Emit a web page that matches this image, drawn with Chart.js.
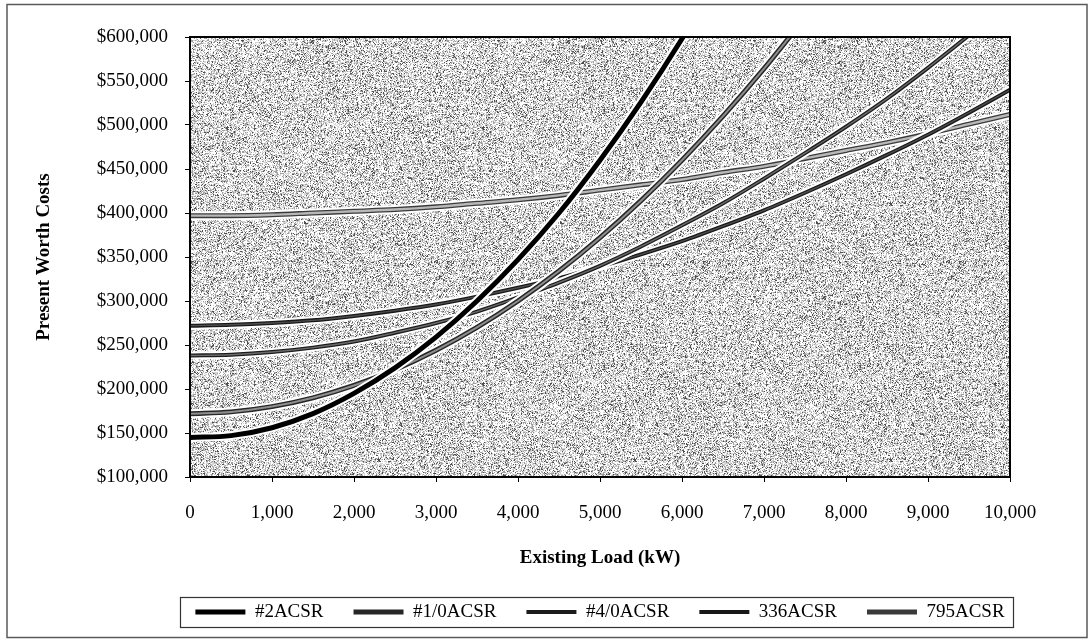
<!DOCTYPE html>
<html>
<head>
<meta charset="utf-8">
<title>Present Worth Costs vs Existing Load</title>
<script src="https://cdn.jsdelivr.net/npm/chart.js@4.4.1/dist/chart.umd.min.js"></script>
<style>
  html, body { margin: 0; padding: 0; background: #ffffff; }
  #wrap { width: 1092px; height: 643px; }
  canvas { display: block; }
</style>
</head>
<body>
<div id="wrap"><canvas id="chart" width="1092" height="643"></canvas></div>
<script>
// Existing load (kW) at which each conductor's present worth cost is given
const loadKW = [0, 500, 1000, 1500, 2000, 2500, 3000, 3500, 4000, 4500, 5000,
                5500, 6000, 6500, 7000, 7500, 8000, 8500, 9000, 9500, 10000];

// Present worth costs ($) per conductor size
const costACSR2   = [145000, 147000, 156000, 172000, 195000, 224000, 259000, 300000, 347000, 400000, 460000,
                     526000, 598000, 676000, null, null, null, null, null, null, null];
const costACSR1_0 = [172000, 174000, 180000, 190000, 204000, 222000, 244000, 270000, 300000, 334000, 372000,
                     414000, 460000, 510000, 564000, 622000, null, null, null, null, null];
const costACSR4_0 = [238000, 239000, 242000, 247000, 254000, 264000, 275000, 288000, 304000, 321000, 340000,
                     362000, 386000, 411000, 439000, 468000, 498000, 530000, 565000, 602000, 640000];
const costACSR336 = [272000, 273000, 275000, 278000, 283000, 289000, 296000, 305000, 315000, 326000, 339000,
                     353000, 368000, 385000, 403000, 423000, 444000, 466000, 489000, 514000, 540000];
const costACSR795 = [397000, 397000, 398000, 400000, 402000, 404000, 407000, 411000, 415000, 420000, 426000,
                     432000, 438000, 446000, 453000, 462000, 471000, 480000, 490000, 501000, 512000];

const seriesNames = ['#2ACSR', '#1/0ACSR', '#4/0ACSR', '336ACSR', '795ACSR'];
const seriesCosts = [costACSR2, costACSR1_0, costACSR4_0, costACSR336, costACSR795];

// Axis tick values
const yTickValues = [100000, 150000, 200000, 250000, 300000, 350000, 400000, 450000, 500000, 550000, 600000];
const xTickValues = [0, 1000, 2000, 3000, 4000, 5000, 6000, 7000, 8000, 9000, 10000];

// Stroke look of each series: dark outer stroke, optional lighter core
const strokeLook = [
  { main: '#000000', width: 5, core: null,      coreWidth: 0 },
  { main: '#262626', width: 5, core: '#8e8e8e', coreWidth: 2 },
  { main: '#1c1c1c', width: 4, core: '#6c6c6c', coreWidth: 1.4 },
  { main: '#181818', width: 4, core: '#4e4e4e', coreWidth: 1.4 },
  { main: '#3a3a3a', width: 5, core: '#b8b8b8', coreWidth: 2.4 }
];

const FONT = "'Liberation Serif', 'Times New Roman', serif";
Chart.defaults.font.family = FONT;
Chart.defaults.color = '#000000';

function points(values) {
  return loadKW.map((x, i) => ({ x: x, y: values[i] }));
}

// Each series: white halo underneath, main stroke, light core on top
const datasets = [];
seriesNames.forEach((name, s) => {
  const look = strokeLook[s];
  const common = {
    data: points(seriesCosts[s]),
    pointRadius: 0,
    pointHoverRadius: 0,
    tension: 0.4,
    cubicInterpolationMode: 'monotone',
    spanGaps: false,
    fill: false
  };
  datasets.push(Object.assign({}, common, {
    label: name + ' halo', role: 'halo', borderColor: '#ffffff',
    borderWidth: look.width + 4, order: s * 3 + 2
  }));
  datasets.push(Object.assign({}, common, {
    label: name, role: 'main', borderColor: look.main, backgroundColor: look.main,
    borderWidth: look.width, order: s * 3 + 1, pointStyle: 'line'
  }));
  if (look.core) {
    datasets.push(Object.assign({}, common, {
      label: name + ' core', role: 'core', borderColor: look.core,
      borderWidth: look.coreWidth, order: s * 3
    }));
  }
});

// Stippled grey fill for the plot area
function makeStipple() {
  const size = 256;
  const c = document.createElement('canvas');
  c.width = size; c.height = size;
  const g = c.getContext('2d');
  const img = g.createImageData(size, size);
  for (let i = 0; i < size * size; i++) {
    let h = Math.imul(i ^ 0x5bd1e995, 0x27d4eb2d);
    h ^= h >>> 15; h = Math.imul(h, 0x85ebca6b); h ^= h >>> 13;
    h = Math.imul(h, 0xc2b2ae35); h ^= h >>> 16;
    const r = (h >>> 0) / 4294967296;
    let v;
    if (r < 0.42) v = 255;
    else if (r < 0.68) v = 212;
    else if (r < 0.90) v = 160;
    else v = 80;
    img.data[i * 4] = v; img.data[i * 4 + 1] = v; img.data[i * 4 + 2] = v; img.data[i * 4 + 3] = 255;
  }
  g.putImageData(img, 0, 0);
  return c;
}
const stippleCanvas = makeStipple();

const framePlugin = {
  id: 'frame',
  afterLayout(chart) {
    // centre the legend under the plot area
    const lg = chart.legend;
    const a = chart.chartArea;
    const dx = (a.left + a.right) / 2 - (lg.left + lg.right) / 2;
    lg.left += dx; lg.right += dx;
  },
  beforeDraw(chart) {
    const ctx = chart.ctx;
    const a = chart.chartArea;
    ctx.save();
    ctx.fillStyle = '#ffffff';
    ctx.fillRect(0, 0, chart.width, chart.height);
    ctx.fillStyle = ctx.createPattern(stippleCanvas, 'repeat');
    ctx.fillRect(a.left, a.top, a.right - a.left, a.bottom - a.top);
    // outer figure border
    ctx.strokeStyle = '#5a5a5a';
    ctx.lineWidth = 1.5;
    ctx.strokeRect(7, 4.5, 1080, 633);
    ctx.restore();
  },
  afterDraw(chart) {
    const ctx = chart.ctx;
    const a = chart.chartArea;
    ctx.save();
    ctx.strokeStyle = '#000000';
    ctx.lineWidth = 2;
    ctx.strokeRect(a.left, a.top, a.right - a.left, a.bottom - a.top);
    // legend box
    const lg = chart.legend;
    const hb = lg.legendHitBoxes;
    if (hb && hb.length) {
      const left = hb[0].left - 15;
      const last = hb[hb.length - 1];
      const right = last.left + last.width + 9;
      const cy = lg.top + lg.options.labels.padding + lg.options.labels.font.size / 2;
      ctx.strokeStyle = '#333333';
      ctx.lineWidth = 1.2;
      ctx.strokeRect(Math.round(left) + 0.5, Math.round(cy - 15) + 0.5, Math.round(right - left), 30);
    }
    ctx.restore();
  }
};

new Chart(document.getElementById('chart'), {
  type: 'line',
  data: { datasets: datasets },
  plugins: [framePlugin],
  options: {
    responsive: false,
    animation: false,
    devicePixelRatio: 1,
    layout: { padding: { left: 10, right: 82, top: 37, bottom: 11.5 } },
    plugins: {
      tooltip: { enabled: false },
      legend: {
        position: 'bottom',
        labels: {
          font: { family: FONT, size: 19 },
          color: '#000000',
          usePointStyle: true,
          pointStyle: 'line',
          pointStyleWidth: 50,
          padding: 30,
          filter: (item, data) => data.datasets[item.datasetIndex].role === 'main'
        }
      }
    },
    scales: {
      x: {
        type: 'linear',
        min: 0,
        max: 10000,
        afterBuildTicks: (scale) => { scale.ticks = xTickValues.map(v => ({ value: v })); },
        afterFit: (scale) => { scale.height = 95.5; },
        grid: { display: true, drawOnChartArea: false, drawTicks: true, tickLength: 5, tickColor: '#000000', lineWidth: 1 },
        border: { display: false },
        ticks: {
          padding: 20,
          maxRotation: 0,
          font: { family: FONT, size: 19 },
          color: '#000000',
          callback: (v) => Number(v).toLocaleString('en-US')
        },
        title: {
          display: true,
          text: 'Existing Load (kW)',
          font: { family: FONT, size: 19, weight: 'bold' },
          color: '#000000',
          padding: { top: 0, bottom: 3.5 }
        }
      },
      y: {
        type: 'linear',
        min: 100000,
        max: 600000,
        afterBuildTicks: (scale) => { scale.ticks = yTickValues.map(v => ({ value: v })); },
        afterFit: (scale) => { scale.width = 180; },
        grid: { display: true, drawOnChartArea: false, drawTicks: true, tickLength: 5, tickColor: '#000000', lineWidth: 1 },
        border: { display: false },
        ticks: {
          padding: 17,
          font: { family: FONT, size: 19 },
          color: '#000000',
          callback: (v) => '$' + Number(v).toLocaleString('en-US')
        },
        title: {
          display: true,
          text: 'Present Worth Costs',
          font: { family: FONT, size: 19, weight: 'bold' },
          color: '#000000',
          padding: { top: 23, bottom: 0 }
        }
      }
    }
  }
});
</script>
</body>
</html>
